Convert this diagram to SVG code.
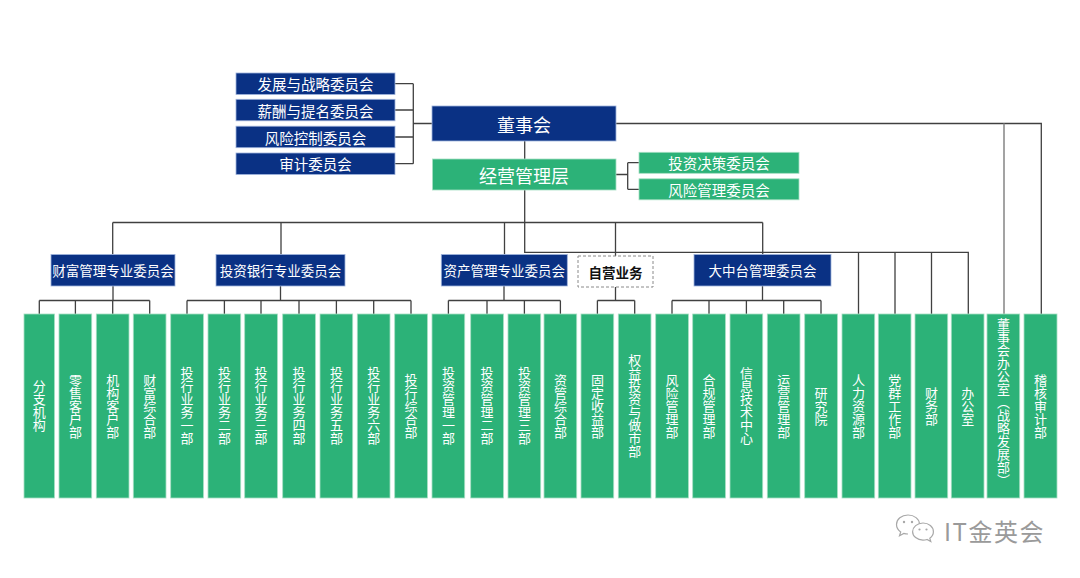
<svg xmlns="http://www.w3.org/2000/svg" width="1080" height="578" viewBox="0 0 1080 578">
<style>
.bg{fill:#ffffff}
.navy{fill:#0a3184;stroke:#9fb3dc;stroke-width:0.8}
.green{fill:#2cb278;stroke:#a6dfc2;stroke-width:0.8}
.dash{fill:#ffffff;stroke:#8a8a8a;stroke-width:1;stroke-dasharray:3 2}
.t{font-family:"Noto Sans CJK SC","Noto Sans",sans-serif;fill:#ffffff;text-anchor:middle;dominant-baseline:central}
.big{font-size:18px}
.mid{font-size:14.5px}
.sm{font-size:13.5px}
.blk{fill:#111111;font-weight:bold}
.v{font-family:"Noto Sans CJK SC","Noto Sans",sans-serif;fill:#ffffff;font-size:13px;writing-mode:vertical-rl;text-anchor:middle}
.ln{fill:none;stroke:#404040;stroke-width:1.3}
.lg{fill:none;stroke:#8c8c8c;stroke-width:1.6}
.wm{font-family:"Noto Sans CJK SC","Noto Sans",sans-serif;fill:#9a9a9a;font-size:24px;letter-spacing:1.5px}
</style>
<rect class="bg" x="0" y="0" width="1080" height="578"/>

<g id="connectors">
  <path class="ln" d="M395 83.7H413.3M395 110H413.3M395 137H413.3M395 163.7H413.3M413.3 83.7V163.7M413.3 123.5H432"/>
  <path class="ln" d="M524.7 141V159"/>
  <path class="ln" d="M616 174.5H627.7M627.7 162.7V189.3M627.7 162.7H639M627.7 189.3H639"/>
  <path class="ln" d="M616 123.5H1041.3V314"/>
  <path class="lg" d="M1004 123.5V314"/>
  <path class="ln" d="M524.7 190V252.3H968.3V314M858.5 252.3V314M895 252.3V314M931.5 252.3V314"/>
  <path class="ln" d="M112.7 222.5H762.7M112.7 222.5V254.5M281 222.5V254.5M504.5 222.5V254.5M615.5 222.5V256M762.7 222.5V254.5"/>
  <path class="ln" d="M113 286V300.5M39.3 300.5H149.7M39.3 300.5V314M75.4 300.5V314M112.7 300.5V314M149.7 300.5V314"/>
  <path class="ln" d="M280.5 286V300.5M187 300.5H411M187 300.5V314M224.4 300.5V314M261 300.5V314M299 300.5V314M336.4 300.5V314M373.7 300.5V314M411 300.5V314"/>
  <path class="ln" d="M504 286V300.5M448.4 300.5H560.4M448.4 300.5V314M487 300.5V314M524.4 300.5V314M560.4 300.5V314"/>
  <path class="ln" d="M615.5 287V300.5M597.4 300.5H634.7M597.4 300.5V314M634.7 300.5V314"/>
  <path class="ln" d="M762.5 286V300.5M672 300.5H821M672 300.5V314M709 300.5V314M746.4 300.5V314M783.7 300.5V314M821 300.5V314"/>
</g>

<g id="n-board"><rect class="navy" x="432" y="106" width="184" height="35"/><text class="t big" x="524" y="123.5">董事会</text></g>
<g id="n-mgmt"><rect class="green" x="432.5" y="159" width="183.5" height="31"/><text class="t big" x="524" y="174.5">经营管理层</text></g>

<g id="n-c1"><rect class="navy" x="236" y="73" width="159" height="21.5"/><text class="t mid" x="315.5" y="83.7">发展与战略委员会</text></g>
<g id="n-c2"><rect class="navy" x="236" y="99.3" width="159" height="21.5"/><text class="t mid" x="315.5" y="110">薪酬与提名委员会</text></g>
<g id="n-c3"><rect class="navy" x="236" y="126.2" width="159" height="21.5"/><text class="t mid" x="315.5" y="137">风险控制委员会</text></g>
<g id="n-c4"><rect class="navy" x="236" y="153" width="159" height="21.5"/><text class="t mid" x="315.5" y="163.7">审计委员会</text></g>

<g id="n-m1"><rect class="green" x="639" y="152.3" width="160" height="21"/><text class="t mid" x="719" y="162.8">投资决策委员会</text></g>
<g id="n-m2"><rect class="green" x="639" y="178.8" width="160" height="21"/><text class="t mid" x="719" y="189.3">风险管理委员会</text></g>

<g id="n-wealth"><rect class="navy" x="51" y="254.5" width="124" height="31.5"/><text class="t sm" x="113" y="270.3">财富管理专业委员会</text></g>
<g id="n-ib"><rect class="navy" x="216" y="254.5" width="129" height="31.5"/><text class="t sm" x="280.5" y="270.3">投资银行专业委员会</text></g>
<g id="n-am"><rect class="navy" x="441.3" y="254.5" width="126" height="31.5"/><text class="t sm" x="504.3" y="270.3">资产管理专业委员会</text></g>
<g id="n-prop"><rect class="dash" x="578" y="256" width="75" height="31"/><text class="t sm blk" x="615.5" y="271.5">自营业务</text></g>
<g id="n-mp"><rect class="navy" x="694" y="254.5" width="137" height="31.5"/><text class="t sm" x="762.5" y="270.3">大中台管理委员会</text></g>

<g id="d1"><rect class="green" x="24" y="314" width="30.5" height="184"/><text class="v" x="39.3" y="406">分支机构</text></g>
<g id="d2"><rect class="green" x="59" y="314" width="32.7" height="184"/><text class="v" x="75.4" y="406">零售客户部</text></g>
<g id="d3"><rect class="green" x="96.3" y="314" width="32.7" height="184"/><text class="v" x="112.7" y="406">机构客户部</text></g>
<g id="d4"><rect class="green" x="133.3" y="314" width="32.7" height="184"/><text class="v" x="149.7" y="406">财富综合部</text></g>
<g id="d5"><rect class="green" x="170.7" y="314" width="32.7" height="184"/><text class="v" x="187" y="406">投行业务一部</text></g>
<g id="d6"><rect class="green" x="208" y="314" width="32.7" height="184"/><text class="v" x="224.4" y="406">投行业务二部</text></g>
<g id="d7"><rect class="green" x="244.7" y="314" width="32.7" height="184"/><text class="v" x="261" y="406">投行业务三部</text></g>
<g id="d8"><rect class="green" x="282.7" y="314" width="32.7" height="184"/><text class="v" x="299" y="406">投行业务四部</text></g>
<g id="d9"><rect class="green" x="320" y="314" width="32.7" height="184"/><text class="v" x="336.4" y="406">投行业务五部</text></g>
<g id="d10"><rect class="green" x="357.3" y="314" width="32.7" height="184"/><text class="v" x="373.7" y="406">投行业务六部</text></g>
<g id="d11"><rect class="green" x="394.7" y="314" width="32.7" height="184"/><text class="v" x="411" y="406">投行综合部</text></g>
<g id="d12"><rect class="green" x="432" y="314" width="32.7" height="184"/><text class="v" x="448.4" y="406">投资管理一部</text></g>
<g id="d13"><rect class="green" x="470.7" y="314" width="32.7" height="184"/><text class="v" x="487" y="406">投资管理二部</text></g>
<g id="d14"><rect class="green" x="508" y="314" width="32.7" height="184"/><text class="v" x="524.4" y="406">投资管理三部</text></g>
<g id="d15"><rect class="green" x="544" y="314" width="32.7" height="184"/><text class="v" x="560.4" y="406">资管综合部</text></g>
<g id="d16"><rect class="green" x="581" y="314" width="32.7" height="184"/><text class="v" x="597.4" y="406">固定收益部</text></g>
<g id="d17"><rect class="green" x="618.3" y="314" width="32.7" height="184"/><text class="v" x="634.7" y="406">权益投资与做市部</text></g>
<g id="d18"><rect class="green" x="655.7" y="314" width="32.7" height="184"/><text class="v" x="672" y="406">风险管理部</text></g>
<g id="d19"><rect class="green" x="692.7" y="314" width="32.7" height="184"/><text class="v" x="709" y="406">合规管理部</text></g>
<g id="d20"><rect class="green" x="730" y="314" width="32.7" height="184"/><text class="v" x="746.4" y="406">信息技术中心</text></g>
<g id="d21"><rect class="green" x="767.3" y="314" width="32.7" height="184"/><text class="v" x="783.7" y="406">运营管理部</text></g>
<g id="d22"><rect class="green" x="804.7" y="314" width="32.7" height="184"/><text class="v" x="821" y="406">研究院</text></g>
<g id="d23"><rect class="green" x="842" y="314" width="32.7" height="184"/><text class="v" x="858.4" y="406">人力资源部</text></g>
<g id="d24"><rect class="green" x="878.3" y="314" width="32.7" height="184"/><text class="v" x="894.7" y="406">党群工作部</text></g>
<g id="d25"><rect class="green" x="915" y="314" width="32.7" height="184"/><text class="v" x="931.4" y="406">财务部</text></g>
<g id="d26"><rect class="green" x="951.3" y="314" width="32.7" height="184"/><text class="v" x="967.7" y="406">办公室</text></g>
<g id="d27"><rect class="green" x="987" y="314" width="32.7" height="184"/><text class="v" x="1003.4" y="402">董事会办公室（战略发展部）</text></g>
<g id="d28"><rect class="green" x="1024" y="314" width="33" height="184"/><text class="v" x="1040.5" y="406">稽核审计部</text></g>

<g id="watermark">
  <path d="M908 515c-6.5 0-11.5 4.3-11.5 9.5 0 3 1.6 5.6 4.2 7.4l-1.2 3.8 4.3-2.3c1.3 0.4 2.7 0.6 4.2 0.6" fill="#ffffff" stroke="#a8a8a8" stroke-width="1.2"/>
  <path d="M908 515c6.3 0 11.3 4 11.5 9" fill="none" stroke="#a8a8a8" stroke-width="1.2"/>
  <circle cx="904" cy="522" r="1.2" fill="#a8a8a8"/>
  <circle cx="912" cy="522" r="1.2" fill="#a8a8a8"/>
  <path d="M923 523c5.8 0 10.4 3.9 10.4 8.7 0 2.6-1.4 4.9-3.6 6.5l1 3.3-3.8-2c-1.2 0.4-2.5 0.6-4 0.6-5.8 0-10.4-3.9-10.4-8.4s4.6-8.7 10.4-8.7z" fill="#ffffff" stroke="#a8a8a8" stroke-width="1.2"/>
  <circle cx="919.5" cy="529.5" r="1.1" fill="#a8a8a8"/>
  <circle cx="926.5" cy="529.5" r="1.1" fill="#a8a8a8"/>
  <text class="wm" x="944" y="541">IT金英会</text>
</g>
</svg>
